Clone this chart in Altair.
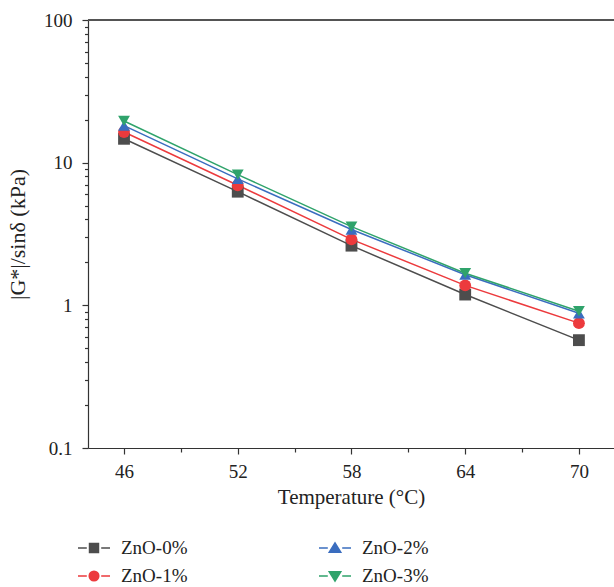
import altair as alt
import pandas as pd

temps = [46, 52, 58, 64, 70]
series = ["ZnO-0%", "ZnO-1%", "ZnO-2%", "ZnO-3%"]
zno0 = [14.7, 6.26, 2.62, 1.19, 0.57]
zno1 = [16.4, 6.95, 2.90, 1.38, 0.75]
zno2 = [18.2, 7.70, 3.40, 1.64, 0.88]
zno3 = [19.6, 8.25, 3.56, 1.68, 0.91]
colors = ["#4d4d4d", "#ec3a3d", "#3a6dbf", "#2fa36b"]
x_ticks = [46, 52, 58, 64, 70]
x_minor = [49, 55, 61, 67]
y_ticks = [0.1, 1, 10, 100]
y_minor = [0.2, 0.3, 0.4, 0.5, 0.6, 0.7, 0.8, 0.9, 2, 3, 4, 5, 6, 7, 8, 9,
           20, 30, 40, 50, 60, 70, 80, 90]

rows = []
for name, vals in zip(series, [zno0, zno1, zno2, zno3]):
    for t, v in zip(temps, vals):
        rows.append({"T": t, "G": v, "series": name})
df = pd.DataFrame(rows)

FONT = "Liberation Serif"
xscale = alt.Scale(domain=[44.1, 71.85], nice=False, zero=False)
yscale = alt.Scale(type="log", domain=[0.1, 100], nice=False)
cscale = alt.Scale(domain=series, range=colors)

base = alt.Chart(df)

line = base.mark_line(strokeWidth=1.5).encode(
    x=alt.X("T:Q", scale=xscale, axis=alt.Axis(
        values=x_ticks, title="Temperature (°C)", labelPadding=8, titlePadding=5,
        orient="bottom")),
    y=alt.Y("G:Q", scale=yscale, axis=alt.Axis(
        values=y_ticks, title="|G*|/sinδ (kPa)", titlePadding=14, labelPadding=10,
        orient="left", titleFontSize=22,
        labelExpr="datum.value >= 1 ? format(datum.value, 'd') : format(datum.value, '.1f')")),
    color=alt.Color("series:N", scale=cscale, legend=None),
)

points = base.mark_point(filled=True, opacity=1, size=140).encode(
    x=alt.X("T:Q", scale=xscale, axis=None),
    y=alt.Y("G:Q", scale=yscale, axis=None),
    color=alt.Color("series:N", scale=cscale, legend=None),
    shape=alt.Shape("series:N", scale=alt.Scale(
        domain=series, range=["square", "circle", "triangle-up", "triangle-down"]), legend=None),
)

minor_y = base.mark_point(opacity=0).encode(
    x=alt.X("T:Q", scale=xscale, axis=None),
    y=alt.Y("G:Q", scale=yscale, axis=alt.Axis(
        values=y_minor, labels=False, tickSize=3.5, domain=False, title=None, orient="left")),
)
minor_x = base.mark_point(opacity=0).encode(
    x=alt.X("T:Q", scale=xscale, axis=alt.Axis(
        values=x_minor, labels=False, tickSize=4, domain=False, title=None, orient="bottom")),
    y=alt.Y("G:Q", scale=yscale, axis=None),
)

top_line = base.mark_rule(color="#555555", strokeWidth=1.5).encode(y=alt.value(0))

leg_paths = [
    "M-1,0H-0.45M0.45,0H1M-0.28,-0.28H0.28V0.28H-0.28Z",
    "M-1,0H-0.45M0.45,0H1M-0.3,0A0.3,0.3 0 1,0 0.3,0A0.3,0.3 0 1,0 -0.3,0Z",
    "M-1,0H-0.45M0.45,0H1M0,-0.32L0.36,0.26L-0.36,0.26Z",
    "M-1,0H-0.45M0.45,0H1M0,0.32L0.36,-0.26L-0.36,-0.26Z",
]
legend = alt.Legend(
    title=None, orient="none", legendX=-11, legendY=511, columns=2,
    columnPadding=128, rowPadding=1, symbolSize=1024, symbolStrokeWidth=1.5,
    labelFont=FONT, labelFontSize=19, labelColor="#222222", labelOffset=10,
)
legend_layer = base.mark_point(filled=True, opacity=1).encode(
    x=alt.X("T:Q", scale=xscale, axis=None),
    y=alt.Y("G:Q", scale=yscale, axis=None),
    fill=alt.Fill("series:N", scale=alt.Scale(domain=series, range=colors), legend=legend),
    stroke=alt.Stroke("series:N", scale=alt.Scale(domain=series, range=colors), legend=legend),
    shape=alt.Shape("series:N", scale=alt.Scale(domain=series, range=leg_paths), legend=legend),
).transform_filter("datum.T < 0")

chart = alt.layer(minor_y, minor_x, line, points, top_line, legend_layer).resolve_scale(
    shape="independent", fill="independent", stroke="independent"
).resolve_axis(
    x="independent", y="independent"
).properties(
    width=526, height=428,
    padding={"left": 88, "top": 20, "right": 0, "bottom": 139},
    autosize=alt.AutoSizeParams(type="none"),
).configure_view(stroke=None).configure_axis(
    grid=False, domainColor="#333333", domainWidth=1.2, tickColor="#333333",
    tickWidth=1.2, tickSize=6, labelFont=FONT, labelFontSize=19, labelColor="#222222",
    titleFont=FONT, titleFontSize=21, titleFontWeight="normal", titleColor="#222222",
)

chart.save("out.html", embed_options={"renderer": "svg", "actions": False})
